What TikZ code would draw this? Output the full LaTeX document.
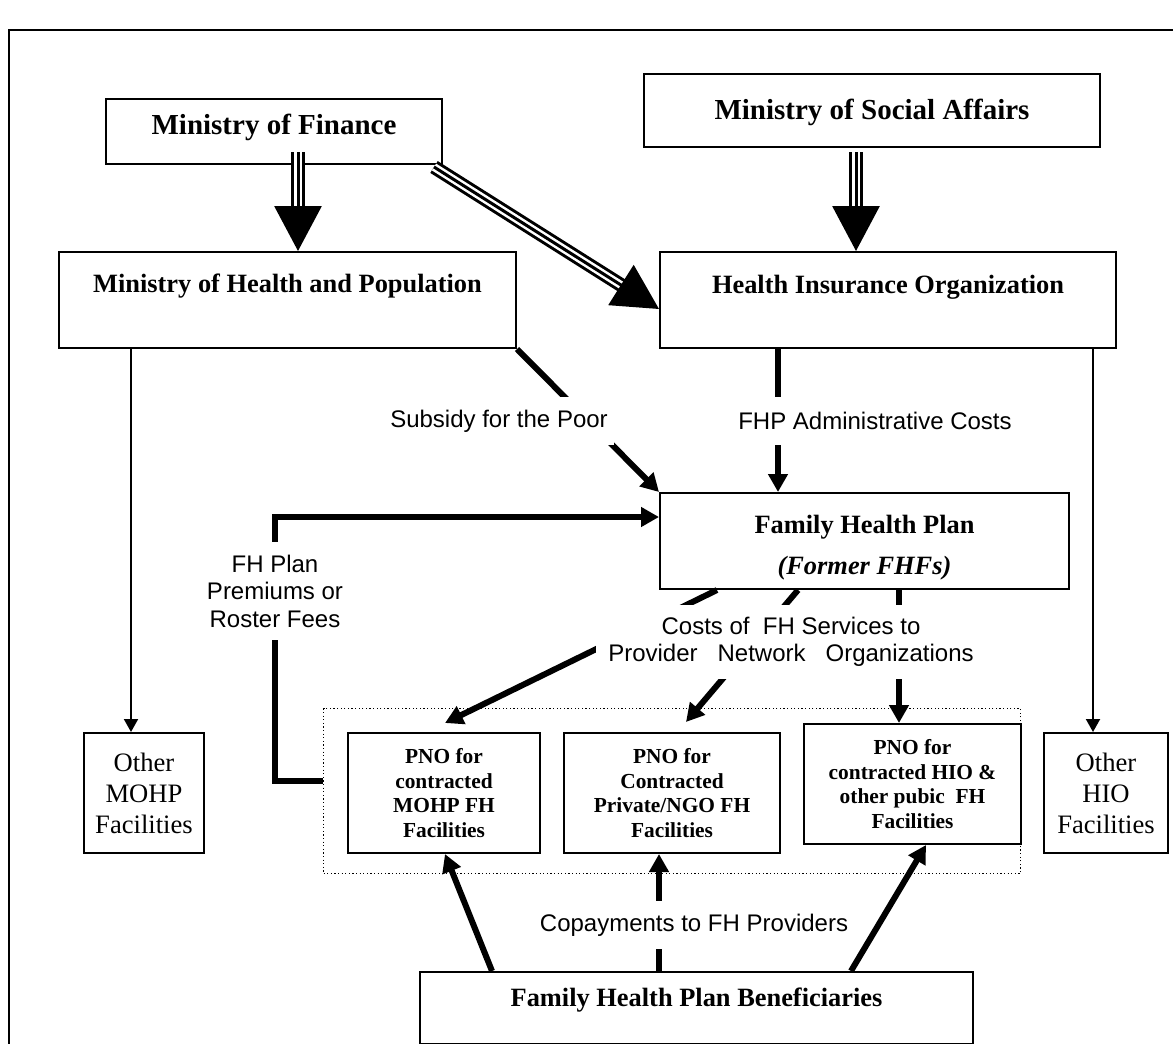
\documentclass[tikz,border=0pt]{standalone}
\usepackage{fontspec}
\setmainfont{Liberation Serif}
\setsansfont{Liberation Sans}
\usetikzlibrary{arrows.meta,calc}

\tikzset{
  box/.style={draw, line width=1pt, inner sep=0pt, anchor=north west, align=center},
  topbox/.style={box, font=\bfseries\fontsize{14.5}{17}\selectfont},
  orgbox/.style={box, font=\bfseries\fontsize{13.2}{16}\selectfont},
  pnobox/.style={box, font=\bfseries\fontsize{10.7}{12.25}\selectfont, minimum height=60pt},
  facbox/.style={box, font=\fontsize{13.3}{15.5}\selectfont, minimum height=60pt},
  grpbox/.style={draw, line width=0.6pt, dash pattern=on 0.6pt off 1.2pt, inner sep=0pt, anchor=north west},
  flowlbl/.style={fill=white, font=\sffamily\fontsize{12}{13.75}\selectfont, align=center, inner xsep=3pt},
  tripl/.style={
    preaction={draw, -, line width=7pt, shorten >=20pt},
    preaction={draw=white, -, line width=4pt, shorten >=20pt},
    draw, line width=1.5pt, -{Triangle[length=22.5pt,width=23.5pt]}},
  thinflow/.style={draw, line width=1pt, -{Triangle[length=6.5pt,width=7pt]}},
  heavyflow/.style={draw, line width=3pt, -{Triangle[length=9pt,width=9.5pt]}},
}

\begin{document}
\begin{tikzpicture}[x=0.5pt,y=0.5pt,yscale=-1,xscale=1]
  \useasboundingbox (0,0) rectangle (1173,1044);
  \draw[line width=1.2pt] (9,1060) -- (9,30) -- (1190,30);

  \node[topbox, minimum width=168pt, text height=17.5pt, text depth=15pt] (mof) at (105,98) {Ministry of Finance};
  \node[topbox, minimum width=228pt, text height=22.5pt, text depth=14pt] (msa) at (643,73) {Ministry of Social Affairs};
  \node[orgbox, minimum width=228.5pt, text height=20pt, text depth=28pt] (mohp) at (58,251) {Ministry of Health and Population};
  \node[orgbox, minimum width=228pt, text height=20.5pt, text depth=27.5pt] (hio) at (659,251) {Health Insurance Organization};
  \node[orgbox, minimum width=204.5pt, minimum height=48pt] (fhp) at (659,492) {\rule{0pt}{15.4pt}Family Health Plan\\[4.5pt]\textit{(Former FHFs)}};
  \node[facbox, minimum width=60pt] (othmohp) at (83,732) {Other\\MOHP\\Facilities};
  \node[facbox, minimum width=62pt] (othhio) at (1043,732) {Other\\HIO\\Facilities};
  \node[grpbox, minimum width=348.5pt, minimum height=82.5pt] (grp) at (323,708) {};
  \node[pnobox, minimum width=96pt] (pno1) at (347,732) {PNO for\\contracted\\MOHP FH\\Facilities};
  \node[pnobox, minimum width=108pt] (pno2) at (563,732) {PNO for\\Contracted\\Private/NGO FH\\Facilities};
  \node[pnobox, minimum width=108.5pt] (pno3) at (803,723) {PNO for\\contracted HIO \&\\other pubic~ FH\\Facilities};
  \node[orgbox, minimum width=276.5pt, text height=17pt, text depth=19pt] (ben) at (419,971) {Family Health Plan Beneficiaries};

  \draw[tripl] ($(mof.south)+(24,-13)$) -- ($(mohp.north)+(10.5,0)$);
  \draw[tripl] ($(mof.south east)+(-9,2)$) -- ($(hio.north west)+(0,58)$);
  \draw[tripl] ($(msa.south)+(-16,4)$) -- ($(hio.north)+(-32,0)$);

  \draw[thinflow] ($(mohp.south west)+(73,0)$) coordinate (m1) -- (m1 |- othmohp.north);
  \draw[thinflow] ($(hio.south east)+(-24,0)$) coordinate (h1) -- (h1 |- othhio.north);

  \draw[heavyflow] (mohp.south east) -- (fhp.north west);
  \draw[heavyflow] ($(hio.south west)+(119,0)$) coordinate (h2) -- (h2 |- fhp.north);
  \draw[heavyflow] ($(grp.west)+(0,-10.5)$) -- ++(-48,0) |- ($(fhp.north west)+(0,25)$);

  \draw[heavyflow] ($(fhp.south west)+(58,0)$) -- ($(pno1.north)+(1,-9)$);
  \draw[heavyflow] ($(fhp.south west)+(139,0)$) -- ($(pno2.north)+(14,-10)$);
  \draw[heavyflow] ($(fhp.south west)+(240,0)$) coordinate (f3) -- (f3 |- pno3.north);

  \draw[heavyflow] ($(ben.north west)+(73,0)$) -- ($(pno1.south)+(1,0)$);
  \draw[heavyflow] ($(ben.north west)+(240,0)$) coordinate (b2) -- (b2 |- pno2.south);
  \draw[heavyflow] ($(ben.north west)+(432,0)$) -- ($(pno3.south)+(13.5,0)$);

  \node[flowlbl, inner ysep=6.4pt] (subsidy) at (499,421) {Subsidy for the Poor};
  \node[flowlbl, inner ysep=7.5pt] (admin) at (875,421) {FHP Administrative Costs};
  \node[flowlbl, inner ysep=6.5pt] (premium) at (275,591) {FH Plan\\Premiums or\\Roster Fees};
  \node[flowlbl, inner ysep=6.25pt, inner xsep=6pt] (costs) at (791,642) {Costs of~ FH Services to\\Provider~~ Network~~ Organizations};
  \node[flowlbl, inner ysep=6.6pt] (copay) at (694,925) {Copayments to FH Providers};
\end{tikzpicture}
\end{document}
